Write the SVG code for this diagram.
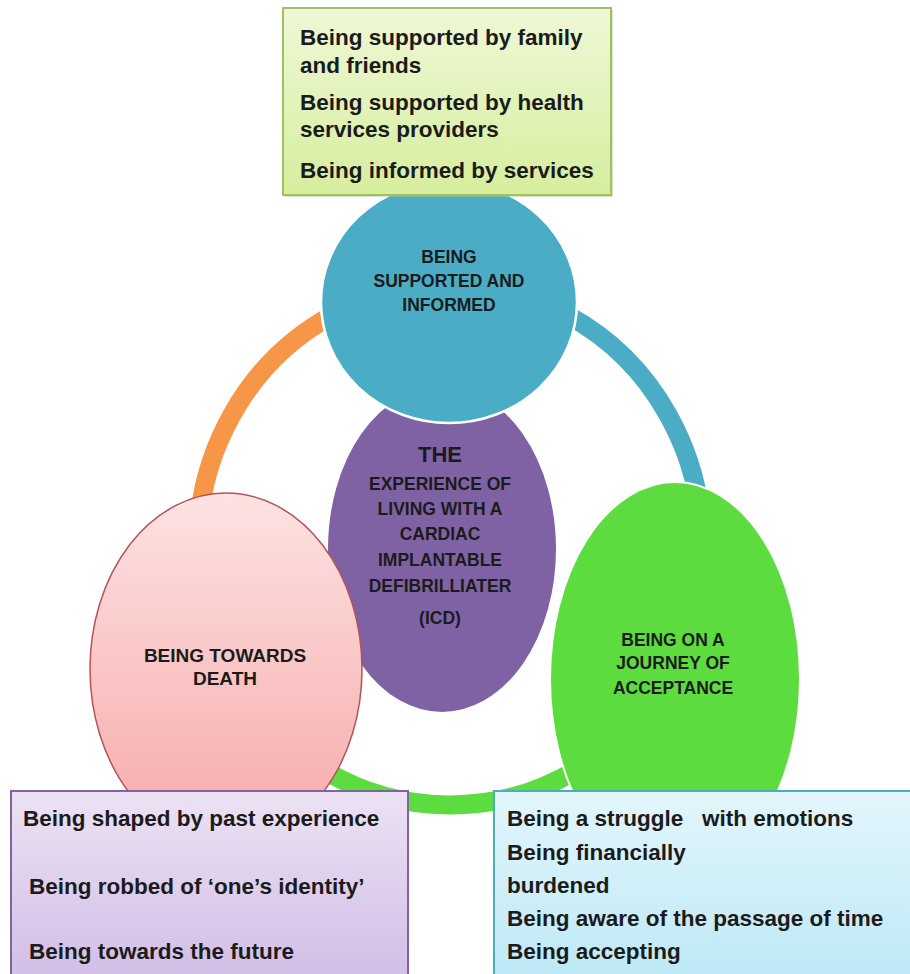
<svg xmlns="http://www.w3.org/2000/svg" width="910" height="974" viewBox="0 0 910 974">
  <defs>
    <linearGradient id="gTop" x1="0" y1="0" x2="0" y2="1">
      <stop offset="0" stop-color="#eef8d6"/>
      <stop offset="1" stop-color="#d6ee9e"/>
    </linearGradient>
    <linearGradient id="gPink" x1="0" y1="0" x2="0" y2="1">
      <stop offset="0" stop-color="#fde2e2"/>
      <stop offset="1" stop-color="#f7a9a9"/>
    </linearGradient>
    <linearGradient id="gLav" x1="0" y1="0" x2="0" y2="1">
      <stop offset="0" stop-color="#ece2f4"/>
      <stop offset="1" stop-color="#d2bde6"/>
    </linearGradient>
    <linearGradient id="gCyan" x1="0" y1="0" x2="0" y2="1">
      <stop offset="0" stop-color="#e3f6fc"/>
      <stop offset="1" stop-color="#bde8f6"/>
    </linearGradient>
  </defs>
  <style>
    .ring { fill: none; stroke-width: 19; }
    .lbl { font-family: "Liberation Sans", Arial, sans-serif; font-weight: bold; font-size: 17.5px; fill: #1b1b1b; text-anchor: middle; }
    .big { font-size: 22px; }
    .pk { font-size: 19px; }
    .box { font-family: "Liberation Sans", Arial, sans-serif; font-weight: bold; font-size: 22.5px; fill: #1b1b1b; white-space: pre; }
  </style>
  <rect width="910" height="974" fill="#ffffff"/>

  <g id="connectors">
    <path class="ring" stroke="#f79646" d="M231.8,675 A252,260 0 0 1 450,285"/>
    <path class="ring" stroke="#4bacc6" d="M450,285 A252,260 0 0 1 668.2,675"/>
    <path class="ring" stroke="#5ddc40" d="M668.2,675 A252,260 0 0 1 231.8,675"/>
  </g>

  <g id="center">
    <ellipse cx="442" cy="549" rx="115" ry="164" fill="#7f62a4" stroke="#ffffff" stroke-width="2"/>
    <text class="lbl big" x="440" y="462">THE</text>
    <text class="lbl" x="440" y="490">EXPERIENCE OF</text>
    <text class="lbl" x="440" y="515">LIVING WITH A</text>
    <text class="lbl" x="440" y="540">CARDIAC</text>
    <text class="lbl" x="440" y="566">IMPLANTABLE</text>
    <text class="lbl" x="440" y="592">DEFIBRILLIATER</text>
    <text class="lbl" x="440" y="624">(ICD)</text>
  </g>

  <g id="supported">
    <ellipse cx="449" cy="302" rx="128" ry="121" fill="#4bacc6" stroke="#ffffff" stroke-width="2.5"/>
    <text class="lbl" x="449" y="263">BEING</text>
    <text class="lbl" x="449" y="287">SUPPORTED AND</text>
    <text class="lbl" x="449" y="311">INFORMED</text>
  </g>

  <g id="death">
    <ellipse cx="226" cy="669" rx="136" ry="176" fill="url(#gPink)" stroke="#b5525a" stroke-width="1.5"/>
    <text class="lbl pk" x="225" y="662">BEING TOWARDS</text>
    <text class="lbl pk" x="225" y="685">DEATH</text>
  </g>

  <g id="acceptance">
    <ellipse cx="675" cy="679" rx="125" ry="197" fill="#5ddc40" stroke="#ffffff" stroke-width="2"/>
    <text class="lbl" x="673" y="646">BEING ON A</text>
    <text class="lbl" x="673" y="669">JOURNEY OF</text>
    <text class="lbl" x="673" y="694">ACCEPTANCE</text>
  </g>

  <g id="box-support">
    <rect x="285" y="10" width="328" height="187" fill="#b8c8a0" opacity="0.5"/>
    <rect x="283" y="8" width="328" height="187" fill="url(#gTop)" stroke="#a3c061" stroke-width="2"/>
    <text class="box" x="300" y="45">Being supported by family</text>
    <text class="box" x="300" y="73">and friends</text>
    <text class="box" x="300" y="110">Being supported by health</text>
    <text class="box" x="300" y="137">services providers</text>
    <text class="box" x="300" y="178">Being informed by services</text>
  </g>

  <g id="box-death">
    <rect x="11" y="791" width="397" height="190" fill="url(#gLav)" stroke="#8064a2" stroke-width="2"/>
    <text class="box" x="23" y="826">Being shaped by past experience</text>
    <text class="box" x="29" y="894">Being robbed of ‘one’s identity’</text>
    <text class="box" x="29" y="959">Being towards the future</text>
  </g>

  <g id="box-acceptance">
    <rect x="494" y="791" width="420" height="190" fill="url(#gCyan)" stroke="#4bacc6" stroke-width="2"/>
    <text class="box" x="507" y="826">Being a struggle   with emotions</text>
    <text class="box" x="507" y="860">Being financially</text>
    <text class="box" x="507" y="893">burdened</text>
    <text class="box" x="507" y="926">Being aware of the passage of time</text>
    <text class="box" x="507" y="959">Being accepting</text>
  </g>
</svg>
